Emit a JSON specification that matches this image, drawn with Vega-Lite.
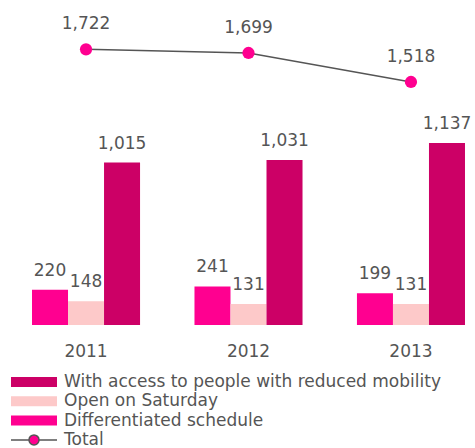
{
  "$schema": "https://vega.github.io/schema/vega-lite/v6.json",
  "width": 475,
  "height": 325,
  "padding": 0,
  "autosize": {"type": "pad"},
  "background": "white",
  "config": {
    "view": {"stroke": null},
    "font": "DejaVu Sans",
    "axis": {"domain": false, "ticks": false, "tickSize": 0, "grid": false, "labelFontSize": 17, "labelColor": "#555555", "labelPadding": 18, "labelBaseline": "top", "title": null, "labelAngle": 0},
    "legend": {"orient": "none", "legendX": 25.5, "legendY": 373.5, "title": null, "symbolSize": 100, "labelFontSize": 17, "labelColor": "#555555", "rowPadding": 1.3, "labelOffset": 21.5, "labelLimit": 450}
  },
  "datasets": {
    "bars": [
      {"year": "2011", "series": "Differentiated schedule", "value": 220},
      {"year": "2011", "series": "Open on Saturday", "value": 148},
      {"year": "2011", "series": "With access to people with reduced mobility", "value": 1015},
      {"year": "2012", "series": "Differentiated schedule", "value": 241},
      {"year": "2012", "series": "Open on Saturday", "value": 131},
      {"year": "2012", "series": "With access to people with reduced mobility", "value": 1031},
      {"year": "2013", "series": "Differentiated schedule", "value": 199},
      {"year": "2013", "series": "Open on Saturday", "value": 131},
      {"year": "2013", "series": "With access to people with reduced mobility", "value": 1137}
    ],
    "totals": [
      {"year": "2011", "series": "Total", "value": 1722},
      {"year": "2012", "series": "Total", "value": 1699},
      {"year": "2013", "series": "Total", "value": 1518}
    ]
  },
  "layer": [
    {
      "data": {"name": "bars"},
      "mark": {"type": "bar"},
      "encoding": {
        "x": {"field": "year", "type": "nominal", "scale": {"range": [0, 497], "paddingInner": 0.335, "paddingOuter": 0.197}},
        "xOffset": {"field": "series", "type": "nominal", "sort": ["Differentiated schedule", "Open on Saturday", "With access to people with reduced mobility"], "scale": {"paddingInner": 0, "paddingOuter": 0}},
        "y": {"field": "value", "type": "quantitative", "scale": {"domain": [0, 2030], "nice": false, "zero": true}, "axis": null},
        "color": {
          "field": "series", "type": "nominal",
          "scale": {"domain": ["With access to people with reduced mobility", "Open on Saturday", "Differentiated schedule", "Total"], "range": ["#cc0066", "#fdc9c9", "#ff0090", "#ff0090"]},
          "legend": {
            "encode": {
              "symbols": {
                "update": {
                  "shape": {"signal": "datum.label === 'Total' ? 'M-4.6,0H-1M1,0H4.6M1,0A1,1,0,1,1,-1,0A1,1,0,1,1,1,0Z' : 'M-4.6,-1H4.6V1H-4.6Z'"},
                  "stroke": {"signal": "datum.label === 'Total' ? '#555555' : 'transparent'"},
                  "strokeWidth": {"value": 1.5}
                }
              }
            }
          }
        }
      }
    },
    {
      "data": {"name": "bars"},
      "mark": {"type": "text", "baseline": "middle", "dy": -19, "fontSize": 17, "color": "#555555"},
      "encoding": {
        "x": {"field": "year", "type": "nominal"},
        "xOffset": {"field": "series", "type": "nominal", "sort": ["Differentiated schedule", "Open on Saturday", "With access to people with reduced mobility"]},
        "y": {"field": "value", "type": "quantitative"},
        "text": {"field": "value", "type": "quantitative", "format": ",d"}
      }
    },
    {
      "data": {"name": "totals"},
      "mark": {"type": "line", "color": "#555555", "strokeWidth": 1.5},
      "encoding": {
        "x": {"field": "year", "type": "nominal"},
        "y": {"field": "value", "type": "quantitative"}
      }
    },
    {
      "data": {"name": "totals"},
      "mark": {"type": "point", "filled": true, "opacity": 1, "size": 150},
      "encoding": {
        "x": {"field": "year", "type": "nominal"},
        "y": {"field": "value", "type": "quantitative"},
        "color": {"field": "series", "type": "nominal"}
      }
    },
    {
      "data": {"name": "totals"},
      "mark": {"type": "text", "baseline": "middle", "dy": -25, "fontSize": 17, "color": "#555555"},
      "encoding": {
        "x": {"field": "year", "type": "nominal"},
        "y": {"field": "value", "type": "quantitative"},
        "text": {"field": "value", "type": "quantitative", "format": ",d"}
      }
    }
  ]
}
